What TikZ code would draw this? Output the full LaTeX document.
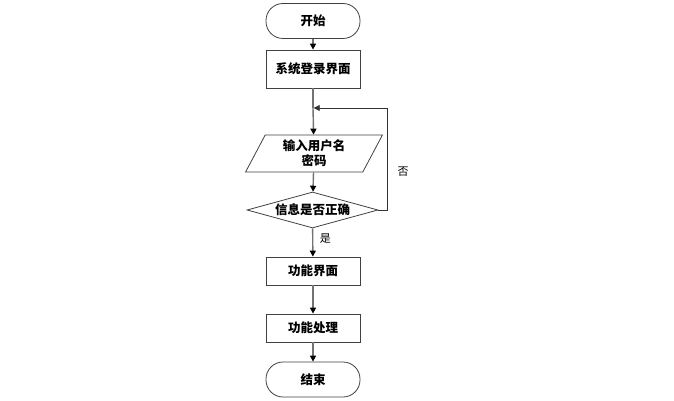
\documentclass[tikz,border=0pt]{standalone}
\usepackage{fontspec}
\newfontfamily\cjk{Noto Sans CJK SC}
\usetikzlibrary{shapes.geometric,arrows.meta}
\begin{document}
\begin{tikzpicture}[x=1pt,y=-1pt,
  every node/.style={font=\cjk\bfseries\fontsize{12.5}{15}\selectfont},
  boxst/.style={draw=black!75,line width=0.8pt,minimum width=94pt,minimum height=28pt,inner sep=0pt},
  termst/.style={boxst,rounded corners=17pt,minimum height=35pt},
  iost/.style={draw=black!75,line width=0.8pt,trapezium,trapezium left angle=65,trapezium right angle=115,trapezium stretches=true,minimum width=137pt,minimum height=37pt,inner sep=0pt,align=center},
  decst/.style={draw=black!75,line width=0.8pt,diamond,aspect=3.64,minimum width=131pt,minimum height=36pt,inner sep=0pt},
  conn/.style={draw=black!55,line width=1.4pt,-{Triangle[length=6pt,width=6pt,fill=black,color=black]}},
  loopst/.style={draw=black!80,line width=0.9pt},
  lab/.style={font=\cjk\fontsize{11}{13}\selectfont}]
\useasboundingbox (0,0) rectangle (674,401);
\node[termst] (start) at (313,21) {开始};
\node[boxst,minimum height=38pt] (login) at (313,69) {系统登录界面};
\node[iost] (input) at (314,153.5) {输入用户名\\密码};
\node[decst] (dec) at (312.5,210) {信息是否正确};
\node[boxst] (func) at (313,271) {功能界面};
\node[boxst] (proc) at (313,328) {功能处理};
\node[termst] (end) at (313,379.5) {结束};
\coordinate (merge) at (313,108);
\coordinate (corner) at (387,108);
\draw[conn] (start) -- (login);
\draw[draw=black!55,line width=1.4pt] (login) -- (merge);
\draw[conn] (merge) -- (input);
\draw[conn] (input) -- (dec);
\draw[conn] (dec) -- node[lab,right,pos=0.35,xshift=3pt]{是} (func);
\draw[conn] (func) -- (proc);
\draw[conn] (proc) -- (end);
\draw[loopst,-{Triangle[length=6pt,width=6pt]}] (dec.east) -| (corner) -- ([xshift=0.7pt]merge);
\node[lab] (no) at (403,172) {否};
\end{tikzpicture}
\end{document}
